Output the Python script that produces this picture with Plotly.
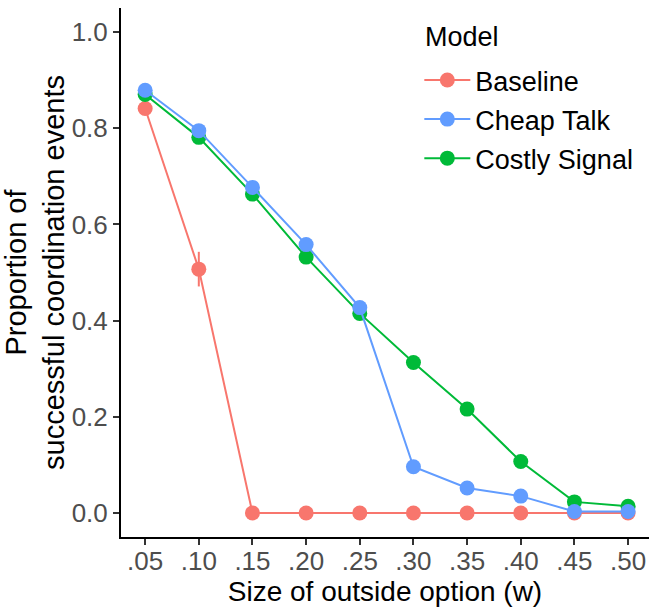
import plotly.graph_objects as go

x_vals = [0.05, 0.10, 0.15, 0.20, 0.25, 0.30, 0.35, 0.40, 0.45, 0.50]
x_ticklabels = [".05", ".10", ".15", ".20", ".25", ".30", ".35", ".40", ".45", ".50"]

baseline = [0.841, 0.507, 0.0, 0.0, 0.0, 0.0, 0.0, 0.0, 0.0, 0.0]
baseline_err = [0.008, 0.036, 0.0, 0.0, 0.0, 0.0, 0.0, 0.0, 0.0, 0.0]

cheap_talk = [0.879, 0.795, 0.677, 0.558, 0.427, 0.096, 0.052, 0.035, 0.003, 0.003]
cheap_talk_err = [0.006, 0.008, 0.009, 0.009, 0.009, 0.008, 0.006, 0.005, 0.002, 0.002]

costly_signal = [0.870, 0.781, 0.663, 0.532, 0.415, 0.313, 0.216, 0.107, 0.023, 0.014]
costly_signal_err = [0.006, 0.008, 0.009, 0.009, 0.009, 0.009, 0.008, 0.006, 0.004, 0.003]

y_ticks = [0.0, 0.2, 0.4, 0.6, 0.8, 1.0]
y_ticklabels = ["0.0", "0.2", "0.4", "0.6", "0.8", "1.0"]

legend_title = "Model"

series = [
    ("Baseline", baseline, baseline_err, "#F8766D", 1),
    ("Costly Signal", costly_signal, costly_signal_err, "#00BA38", 3),
    ("Cheap Talk", cheap_talk, cheap_talk_err, "#619CFF", 2),
]

fig = go.Figure()
for name, vals, err, color, rank in series:
    fig.add_trace(go.Scatter(
        x=x_vals, y=vals, name=name, mode="lines+markers",
        line=dict(color=color, width=2),
        marker=dict(color=color, size=15),
        error_y=dict(type="data", array=err, visible=True, color=color,
                     thickness=2, width=0),
        legendrank=rank, legendgroup=name,
    ))

font_family = "Liberation Sans, Arial, sans-serif"

fig.update_layout(
    width=649, height=611,
    margin=dict(l=121, r=0, t=8, b=74),
    paper_bgcolor="white", plot_bgcolor="white",
    font=dict(family=font_family, size=27, color="black"),
    showlegend=True,
    legend=dict(
        x=0.565, xanchor="left", y=0.9094, yanchor="top",
        font=dict(size=27, color="black"),
        bgcolor="rgba(0,0,0,0)",
        traceorder="grouped", tracegroupgap=1,
        itemwidth=46,
    ),
    annotations=[dict(
        text=legend_title, xref="paper", yref="paper",
        x=0.572, y=0.9457, xanchor="left", yanchor="middle",
        showarrow=False, font=dict(size=27, color="black", family=font_family),
    )],
)

fig.update_xaxes(
    range=[0.0275, 0.5195], automargin=False,
    tickvals=x_vals, ticktext=x_ticklabels,
    showline=True, linecolor="black", linewidth=2,
    ticks="outside", ticklen=6, tickwidth=1.5, tickcolor="#333333",
    tickfont=dict(size=26, color="#4D4D4D", family=font_family),
    ticklabelstandoff=-6,
    showgrid=False, zeroline=False,
    title=dict(text="Size of outside option (w)", font=dict(size=28, color="black"), standoff=2),
)
fig.update_yaxes(
    range=[-0.05, 1.05], automargin=False,
    tickvals=y_ticks, ticktext=y_ticklabels,
    showline=True, linecolor="black", linewidth=2,
    ticks="outside", ticklen=6, tickwidth=1.5, tickcolor="#333333",
    tickfont=dict(size=26, color="#4D4D4D", family=font_family),
    showgrid=False, zeroline=False,
    title=dict(text="Proportion of<br>successful coordination events",
               font=dict(size=29, color="black"), standoff=1),
)

fig.write_html("out.html", post_script="document.body.style.margin='0px';",
               config={"displayModeBar": False})
